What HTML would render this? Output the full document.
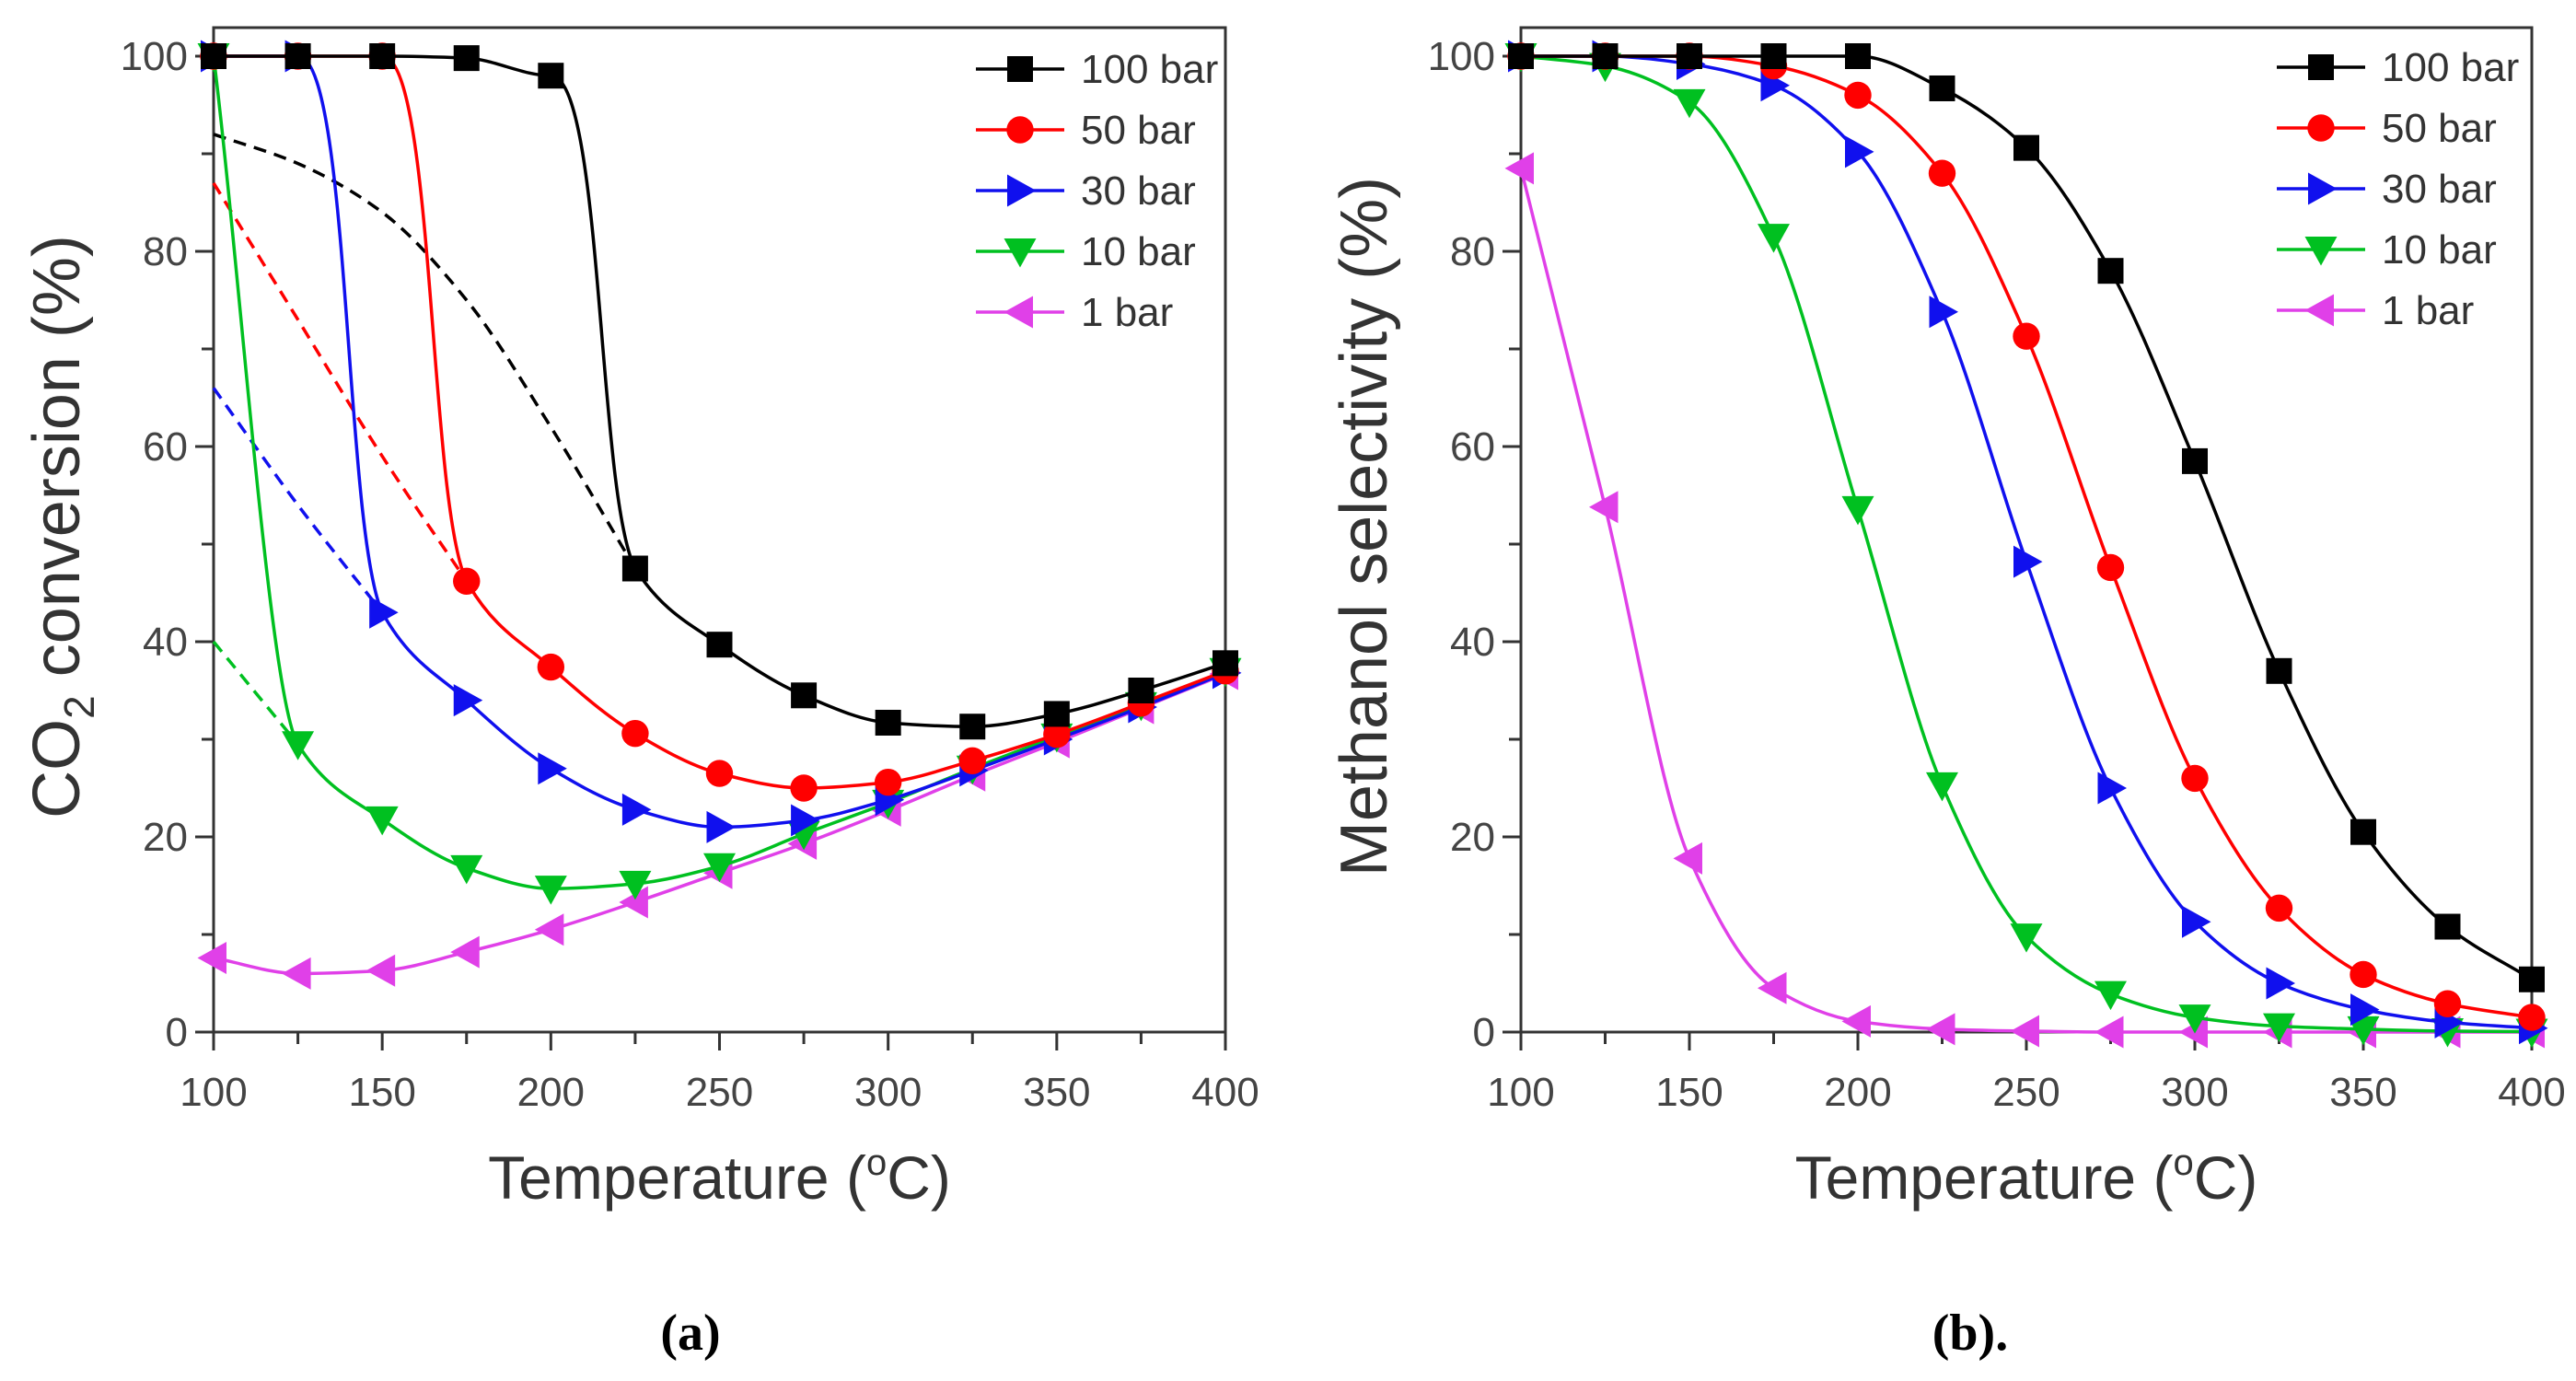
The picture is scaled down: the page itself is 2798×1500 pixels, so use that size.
<!DOCTYPE html>
<html><head><meta charset="utf-8"><style>
html,body{margin:0;padding:0;background:#fff}
svg{display:block}
</style></head><body>
<svg id="fig" width="2798" height="1500" viewBox="0 0 2798 1500" xmlns="http://www.w3.org/2000/svg" font-family="Liberation Sans, sans-serif"></svg>
<script>
const temps=[100,125,150,175,200,225,250,275,300,325,350,375,400];
const xTicks=[100,150,200,250,300,350,400];
const yTicks=[0,20,40,60,80,100];
const seriesNames=["100 bar","50 bar","30 bar","10 bar","1 bar"];
// panel (a) CO2 conversion
const convA100=[100,100,100,99.8,98,47.5,39.7,34.5,31.7,31.3,32.6,35,37.8];
const convA50=[100,100,100,46.2,37.4,30.6,26.5,25,25.6,27.8,30.5,33.7,37];
const convA30=[100,100,43,34,27,22.8,21,21.7,23.8,26.8,30,33.3,36.8];
const convA10=[100,29.5,21.8,16.8,14.7,15.2,17,20.3,23.5,27,30.3,33.5,37];
const convA1=[7.6,6,6.3,8.2,10.5,13.3,16.3,19.3,22.7,26.3,29.7,33.2,36.7];
// dashed extrapolations in panel (a)
const dashX100=[100,125,150,175,200,225];
const dashY100=[92,89,84,75,62,47.5];
const dashX50=[100,125,150,175];
const dashY50=[87,73,59,46.2];
const dashX30=[100,125,150];
const dashY30=[66,54,43];
const dashX10=[100,125];
const dashY10=[40,29.5];
// panel (b) methanol selectivity
const selB100=[100,100,100,100,100,96.7,90.6,78,58.5,37,20.5,10.8,5.4];
const selB50=[100,100,100,99,96,88,71.3,47.6,26,12.7,5.9,2.9,1.5];
const selB30=[100,100,99.2,97,90.2,73.8,48.2,25,11.3,5,2.3,1,0.4];
const selB10=[100,99,95.3,81.5,53.6,25.3,9.8,3.9,1.5,0.6,0.3,0.1,0.05];
const selB1=[88.5,53.8,17.8,4.5,1.1,0.3,0.1,0,0,0,0,0,0];

const colors=["#000000","#ff0000","#1010ee","#00c020","#e040e8"];
const markers=["square","circle","right","down","left"];
const NS="http://www.w3.org/2000/svg";
const svg=document.getElementById('fig');
function mk(tag,attrs,parent){const e=document.createElementNS(NS,tag);for(const k in attrs)e.setAttribute(k,attrs[k]);(parent||svg).appendChild(e);return e;}

// xs, ys in pixels; vals are data values (to detect sharp drops)
function curvePath(xs,ys,vals,sharp){
  const n=xs.length;if(n<2)return '';
  const d=[],m=new Array(n);
  for(let i=0;i<n-1;i++)d.push((ys[i+1]-ys[i])/(xs[i+1]-xs[i]));
  m[0]=d[0];m[n-1]=d[n-2];
  for(let i=1;i<n-1;i++){
    if(d[i-1]*d[i]<=0)m[i]=0;
    else{const w1=2*(xs[i+1]-xs[i])+(xs[i]-xs[i-1]),w2=(xs[i+1]-xs[i])+2*(xs[i]-xs[i-1]);m[i]=(w1+w2)/(w1/d[i-1]+w2/d[i]);}
  }
  const drop=[];
  for(let i=0;i<n-1;i++)drop.push(sharp&&i>0&&vals&&(vals[i]-vals[i+1])>40&&Math.abs(vals[i]-vals[i-1])<3);
  for(let i=0;i<n;i++){ if((i>0&&drop[i-1])||drop[i]) m[i]=(drop[i]?0:m[i]); }
  let p='M'+xs[0].toFixed(1)+','+ys[0].toFixed(1);
  for(let i=0;i<n-1;i++){
    const h=xs[i+1]-xs[i];
    if(drop[i]){
      p+=' C'+(xs[i]+0.62*h).toFixed(1)+','+ys[i].toFixed(1)+' '+(xs[i]+0.55*h).toFixed(1)+','+(ys[i+1]-0.15*(ys[i+1]-ys[i])).toFixed(1)+' '+xs[i+1].toFixed(1)+','+ys[i+1].toFixed(1);
    } else {
      p+=' C'+(xs[i]+h/3).toFixed(1)+','+(ys[i]+m[i]*h/3).toFixed(1)+' '+(xs[i+1]-h/3).toFixed(1)+','+(ys[i+1]-m[i+1]*h/3).toFixed(1)+' '+xs[i+1].toFixed(1)+','+ys[i+1].toFixed(1);
    }
  }
  return p;
}

function marker(g,type,cx,cy,col,s){
  let e;
  if(type==='square')e=mk('rect',{x:cx-s,y:cy-s,width:2*s,height:2*s,fill:col},g);
  else if(type==='circle')e=mk('circle',{cx:cx,cy:cy,r:s*1.05,fill:col},g);
  else{
    let pts;const a=s*1.25;
    if(type==='right')pts=[[cx+a,cy],[cx-a*0.8,cy-a],[cx-a*0.8,cy+a]];
    else if(type==='left')pts=[[cx-a,cy],[cx+a*0.8,cy-a],[cx+a*0.8,cy+a]];
    else pts=[[cx,cy+a],[cx-a,cy-a*0.8],[cx+a,cy-a*0.8]];
    e=mk('polygon',{points:pts.map(p=>p.join(',')).join(' '),fill:col},g);
  }
  
  
}

function panel(opt){
  const X0=opt.x0,X1=opt.x1,Y0=1121,Y1=61,TOP=30;
  const sx=v=>X0+(v-100)/300*(X1-X0);
  const sy=v=>Y0-(v/100)*(Y0-Y1);
  const g=mk('g',{});
  
  
  const frame=mk('rect',{x:X0,y:TOP,width:X1-X0,height:Y0-TOP,fill:'none',stroke:'#333',"stroke-width":3},g);
  
  
  for(let v=100;v<=400;v+=25){
    const t=mk('line',{x1:sx(v),x2:sx(v),y1:Y0,y2:Y0+(v%50===0?20:13),stroke:'#333',"stroke-width":3},g);
    
    
  }
  xTicks.forEach(v=>{
    const t=mk('text',{x:sx(v),y:Y0+80,"text-anchor":"middle","font-size":44,fill:'#444'},g);
    t.textContent=v;
    
    
  });
  for(let v=0;v<=100;v+=10){
    const t=mk('line',{x1:X0,x2:X0-(v%20===0?20:13),y1:sy(v),y2:sy(v),stroke:'#333',"stroke-width":3},g);
    
    
  }
  yTicks.forEach(v=>{
    const t=mk('text',{x:X0-28,y:sy(v)+15,"text-anchor":"end","font-size":44,fill:'#444'},g);
    t.textContent=v;
    
    
  });
  const xt=mk('text',{x:(X0+X1)/2,y:1302,"text-anchor":"middle","font-size":66,fill:'#333'},g);
  xt.innerHTML='Temperature (<tspan font-size="40" dy="-26">o</tspan><tspan dy="26">C)</tspan>';
  
  
  const yt=mk('text',{x:0,y:0,"text-anchor":"middle","font-size":opt.ytsize,fill:'#333',transform:'translate('+opt.ytx+',572) rotate(-90)'},g);
  yt.innerHTML=opt.ytitle;
  
  
  (opt.dashes||[]).forEach((d,i)=>{
    const p=mk('path',{d:curvePath(d[0].map(sx),d[1].map(sy),null,false),fill:'none',stroke:colors[d[2]],"stroke-width":3.5,"stroke-dasharray":"14,9"},g);
    
    
  });
  for(let i=opt.series.length-1;i>=0;i--){
    const ys=opt.series[i];
    const sg=mk('g',{},g);
    
    
    const p=mk('path',{d:curvePath(temps.map(sx),ys.map(sy),ys,opt.sharp),fill:'none',stroke:colors[i],"stroke-width":3.5},sg);
    
    
    temps.forEach((t,j)=>marker(sg,markers[i],sx(t),sy(ys[j]),colors[i],14));
  }
  const lg=mk('g',{},g);
  
  
  seriesNames.forEach((n,i)=>{
    const y=opt.legY+i*66;
    const eg=mk('g',{},lg);
    
    
    mk('line',{x1:opt.legX,x2:opt.legX+96,y1:y,y2:y,stroke:colors[i],"stroke-width":3.5},eg);
    marker(eg,markers[i],opt.legX+48,y,colors[i],14);
    const t=mk('text',{x:opt.legX+114,y:y+15,"font-size":44,fill:'#333'},eg);
    t.textContent=n;
  });
}

panel({name:'panel-a-co2-conversion',x0:232,x1:1331,ytx:86,ytsize:72,sharp:true,
  ytitle:'CO<tspan font-size="46" dy="16">2</tspan><tspan dy="-16"> conversion (%)</tspan>',
  series:[convA100,convA50,convA30,convA10,convA1],
  dashes:[[dashX100,dashY100,0],[dashX50,dashY50,1],[dashX30,dashY30,2],[dashX10,dashY10,3]],
  legX:1060,legY:75});
panel({name:'panel-b-methanol-selectivity',x0:1652,x1:2750,ytx:1506,ytsize:72,sharp:false,
  ytitle:'Methanol selectivity (%)',
  series:[selB100,selB50,selB30,selB10,selB1],
  legX:2473,legY:73});

const la=mk('text',{x:750,y:1466,"text-anchor":"middle","font-size":56,"font-weight":"bold",style:'font-family:"Liberation Serif",serif',fill:'#000'});
la.textContent='(a)';


const lb=mk('text',{x:2140,y:1466,"text-anchor":"middle","font-size":56,"font-weight":"bold",style:'font-family:"Liberation Serif",serif',fill:'#000'});
lb.textContent='(b).';


</script>
</body></html>
